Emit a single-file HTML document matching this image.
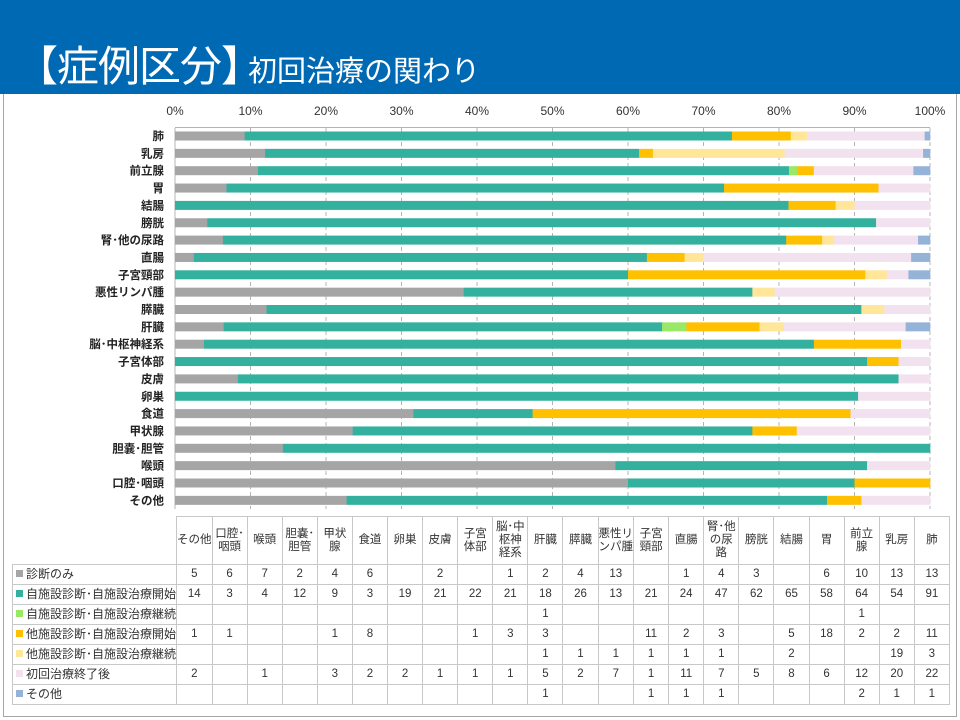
<!DOCTYPE html>
<html><head><meta charset="utf-8">
<style>
html,body{margin:0;padding:0;width:960px;height:720px;overflow:hidden;background:#fff;font-family:"Liberation Sans","Noto Sans CJK JP",sans-serif;}
#hdr{position:absolute;left:0;top:0;width:960px;height:94px;background:#0069b4;}
#t1{position:absolute;left:16px;top:42px;color:#fff;font-size:42px;line-height:50px;white-space:nowrap;letter-spacing:-1px}
#t1 span{font-size:29px;letter-spacing:0;margin-left:-14px}
#frame{position:absolute;left:3px;top:94px;width:952px;height:622px;border:1px solid #a6a6a6;border-top:none;}
svg{position:absolute;left:0;top:0}
table{position:absolute;left:12px;top:516px;border-collapse:collapse;font-size:11.5px;color:#333;table-layout:fixed}
td{border:1px solid #c8c8c8;padding:0;text-align:center;height:19px;line-height:13px;overflow:hidden;white-space:nowrap}
tr.h td{height:47px;}
td.l{text-align:left;padding-left:3px;font-size:12px}
.sq{display:inline-block;width:7px;height:7px;margin-right:3px;vertical-align:1px}
</style></head><body>
<div id="hdr"><div id="t1">【症例区分】<span>初回治療の関わり</span></div></div>
<div id="frame"></div>
<svg id="ch" width="960" height="720" font-family="Liberation Sans, Noto Sans CJK JP, sans-serif">
<g font-size="12" fill="#333" text-anchor="middle">
<text x="175" y="115">0%</text><text x="250.5" y="115">10%</text><text x="326" y="115">20%</text><text x="401.5" y="115">30%</text><text x="477" y="115">40%</text><text x="552.5" y="115">50%</text><text x="628" y="115">60%</text><text x="703.5" y="115">70%</text><text x="779" y="115">80%</text><text x="854.5" y="115">90%</text><text x="930" y="115">100%</text>
</g>
<g id="grid" stroke="#b4b4b4" stroke-width="1"></g>
<g id="bars"></g>
<g font-size="11.5" font-weight="bold" fill="#222" text-anchor="end">
<text x="164" y="140">肺</text><text x="164" y="157.4">乳房</text><text x="164" y="174.7">前立腺</text><text x="164" y="192">胃</text><text x="164" y="209.4">結腸</text><text x="164" y="226.8">膀胱</text><text x="164" y="244.1">腎･他の尿路</text><text x="164" y="261.5">直腸</text><text x="164" y="278.8">子宮頸部</text><text x="164" y="296.2">悪性リンパ腫</text><text x="164" y="313.5">膵臓</text><text x="164" y="330.9">肝臓</text><text x="164" y="348.2">脳･中枢神経系</text><text x="164" y="365.6">子宮体部</text><text x="164" y="382.9">皮膚</text><text x="164" y="400.3">卵巣</text><text x="164" y="417.6">食道</text><text x="164" y="435">甲状腺</text><text x="164" y="452.3">胆嚢･胆管</text><text x="164" y="469.7">喉頭</text><text x="164" y="487">口腔･咽頭</text><text x="164" y="504.4">その他</text>
</g>
</svg>
<table>
<colgroup><col style="width:163px"><col span="22" style="width:35.1px"></colgroup>
<tr class="h"><td style="border-top:none;border-left:none"></td><td>その他</td><td>口腔･<br>咽頭</td><td>喉頭</td><td>胆嚢･<br>胆管</td><td>甲状<br>腺</td><td>食道</td><td>卵巣</td><td>皮膚</td><td>子宮<br>体部</td><td>脳･中<br>枢神<br>経系</td><td>肝臓</td><td>膵臓</td><td>悪性リ<br>ンパ腫</td><td>子宮<br>頸部</td><td>直腸</td><td>腎･他<br>の尿<br>路</td><td>膀胱</td><td>結腸</td><td>胃</td><td>前立<br>腺</td><td>乳房</td><td>肺</td></tr>
<tr><td class="l"><span class="sq" style="background:#a5a5a5"></span>診断のみ</td><td>5</td><td>6</td><td>7</td><td>2</td><td>4</td><td>6</td><td></td><td>2</td><td></td><td>1</td><td>2</td><td>4</td><td>13</td><td></td><td>1</td><td>4</td><td>3</td><td></td><td>6</td><td>10</td><td>13</td><td>13</td></tr>
<tr><td class="l"><span class="sq" style="background:#33b09e"></span>自施設診断･自施設治療開始</td><td>14</td><td>3</td><td>4</td><td>12</td><td>9</td><td>3</td><td>19</td><td>21</td><td>22</td><td>21</td><td>18</td><td>26</td><td>13</td><td>21</td><td>24</td><td>47</td><td>62</td><td>65</td><td>58</td><td>64</td><td>54</td><td>91</td></tr>
<tr><td class="l"><span class="sq" style="background:#99e866"></span>自施設診断･自施設治療継続</td><td></td><td></td><td></td><td></td><td></td><td></td><td></td><td></td><td></td><td></td><td>1</td><td></td><td></td><td></td><td></td><td></td><td></td><td></td><td></td><td>1</td><td></td><td></td></tr>
<tr><td class="l"><span class="sq" style="background:#ffc000"></span>他施設診断･自施設治療開始</td><td>1</td><td>1</td><td></td><td></td><td>1</td><td>8</td><td></td><td></td><td>1</td><td>3</td><td>3</td><td></td><td></td><td>11</td><td>2</td><td>3</td><td></td><td>5</td><td>18</td><td>2</td><td>2</td><td>11</td></tr>
<tr><td class="l"><span class="sq" style="background:#ffe699"></span>他施設診断･自施設治療継続</td><td></td><td></td><td></td><td></td><td></td><td></td><td></td><td></td><td></td><td></td><td>1</td><td>1</td><td>1</td><td>1</td><td>1</td><td>1</td><td></td><td>2</td><td></td><td></td><td>19</td><td>3</td></tr>
<tr><td class="l"><span class="sq" style="background:#f2e1ef"></span>初回治療終了後</td><td>2</td><td></td><td>1</td><td></td><td>3</td><td>2</td><td>2</td><td>1</td><td>1</td><td>1</td><td>5</td><td>2</td><td>7</td><td>1</td><td>11</td><td>7</td><td>5</td><td>8</td><td>6</td><td>12</td><td>20</td><td>22</td></tr>
<tr><td class="l"><span class="sq" style="background:#95b3d7"></span>その他</td><td></td><td></td><td></td><td></td><td></td><td></td><td></td><td></td><td></td><td></td><td>1</td><td></td><td></td><td>1</td><td>1</td><td>1</td><td></td><td></td><td></td><td>2</td><td>1</td><td>1</td></tr>
</table>
<script>
var cols=["#a5a5a5","#33b09e","#99e866","#ffc000","#ffe699","#f2e1ef","#95b3d7"];
var D=[
[5,6,7,2,4,6,0,2,0,1,2,4,13,0,1,4,3,0,6,10,13,13],
[14,3,4,12,9,3,19,21,22,21,18,26,13,21,24,47,62,65,58,64,54,91],
[0,0,0,0,0,0,0,0,0,0,1,0,0,0,0,0,0,0,0,1,0,0],
[1,1,0,0,1,8,0,0,1,3,3,0,0,11,2,3,0,5,18,2,2,11],
[0,0,0,0,0,0,0,0,0,0,1,1,1,1,1,1,0,2,0,0,19,3],
[2,0,1,0,3,2,2,1,1,1,5,2,7,1,11,7,5,8,6,12,20,22],
[0,0,0,0,0,0,0,0,0,0,1,0,0,1,1,1,0,0,0,2,1,1]];
var ns="http://www.w3.org/2000/svg",g=document.getElementById("bars"),gr=document.getElementById("grid");
function el(p,t,a){var e=document.createElementNS(ns,t);for(var k in a)e.setAttribute(k,a[k]);p.appendChild(e);return e;}
el(gr,"line",{x1:175,y1:127.5,x2:930,y2:127.5});
for(var i=0;i<=10;i++){var x=175+75.5*i;el(gr,"line",{x1:x,y1:128,x2:x,y2:509,"stroke-dasharray":i==0?"none":"4,3"});}
for(var r=0;r<22;r++){var c=21-r,tot=0;for(var s=0;s<7;s++)tot+=D[s][c];
var x=175,y=131.5+17.35*r;
for(var s=0;s<7;s++){var w=D[s][c]/tot*755;if(w>0){el(g,"rect",{x:x,y:y,width:w+0.3,height:9,fill:cols[s]});x+=w;}}}
</script>
</body></html>
